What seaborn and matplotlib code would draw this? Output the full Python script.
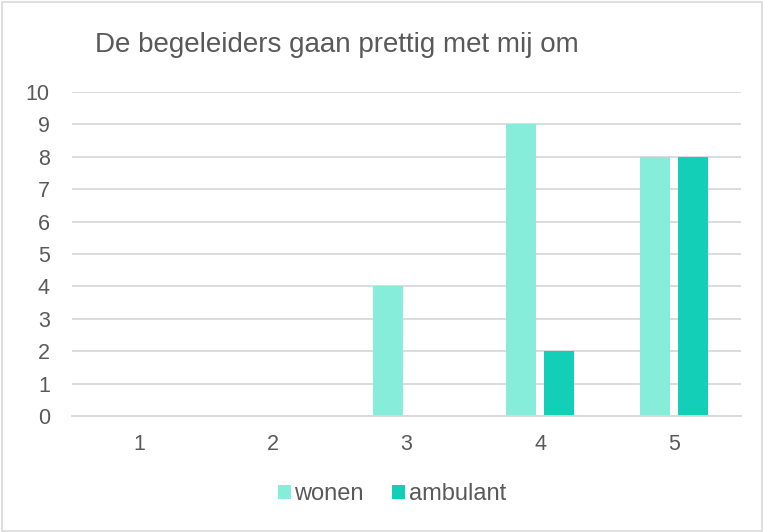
import matplotlib
matplotlib.use("Agg")
import matplotlib.pyplot as plt
import seaborn as sns
import pandas as pd
from matplotlib.patches import Rectangle

categories = ["1", "2", "3", "4", "5"]
wonen = [0, 0, 4, 9, 8]
ambulant = [0, 0, 0, 2, 8]
series_names = ["wonen", "ambulant"]
colors = ["#86EDDB", "#13CFB8"]
yticks = list(range(0, 11))

df = pd.DataFrame({
    "cat": categories * 2,
    "value": wonen + ambulant,
    "series": [series_names[0]] * len(categories) + [series_names[1]] * len(categories),
})

sns.set_theme(style="white")
plt.rcParams["font.family"] = ["Liberation Sans", "DejaVu Sans"]

fig = plt.figure(figsize=(7.64, 5.32), dpi=100)
ax = fig.add_axes([72 / 764, 1 - 416 / 532, (741 - 72) / 764, (416 - 92) / 532])

sns.barplot(data=df, x="cat", y="value", hue="series", order=categories,
            hue_order=series_names, palette=colors, width=0.567, gap=0.21,
            saturation=1, linewidth=0, ax=ax, legend=True)

ax.set_ylim(0, 10)
ax.set_yticks(yticks)
ax.set_xlim(-0.5, len(categories) - 0.5)
ax.yaxis.grid(True, color="#D9D9D9", linewidth=1.3)
ax.set_axisbelow(True)
for s in ["top", "right", "left"]:
    ax.spines[s].set_visible(False)
ax.spines["bottom"].set_color("#D9D9D9")
ax.spines["bottom"].set_linewidth(1.3)
ax.tick_params(axis="both", length=0, colors="#595959", labelsize=15.5)
ax.tick_params(axis="x", pad=13)
ax.tick_params(axis="y", pad=16)
ax.set_xlabel("")
ax.set_ylabel("")

leg = ax.legend(loc="center", bbox_to_anchor=(392 / 764, 1 - 494 / 532),
                bbox_transform=fig.transFigure, ncol=2, frameon=False,
                fontsize=17, handlelength=0.55, handleheight=0.55,
                handletextpad=0.15, columnspacing=1.2)
for t in leg.get_texts():
    t.set_color("#595959")

fig.text(95 / 764, 1 - 45 / 532, "De begeleiders gaan prettig met mij om",
         fontsize=20, color="#595959", va="center", ha="left")

fig.patches.append(Rectangle((0.002, 0.002), 0.995, 0.995, transform=fig.transFigure,
                             fill=False, edgecolor="#D9D9D9", linewidth=1.2))

fig.savefig("out.png", dpi=100)
